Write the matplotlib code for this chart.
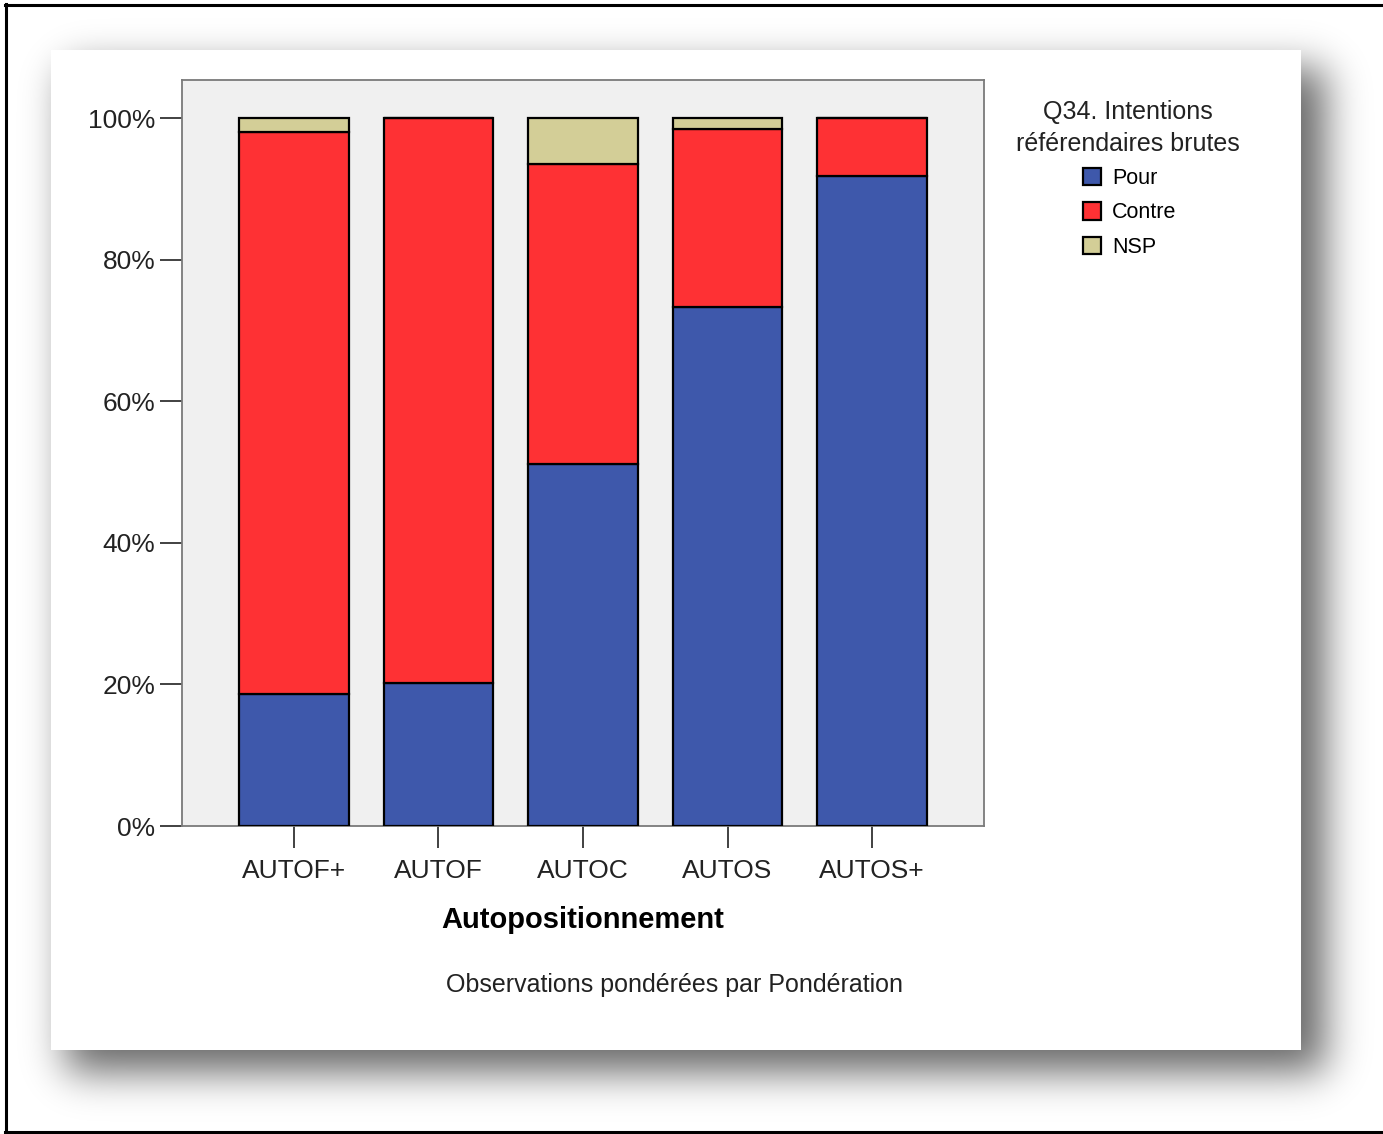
import numpy as np
import matplotlib
matplotlib.use('Agg')
import matplotlib.pyplot as plt
from matplotlib.patches import Rectangle
from matplotlib.lines import Line2D

categories = ['AUTOF+', 'AUTOF', 'AUTOC', 'AUTOS', 'AUTOS+']
pour = [18.6, 20.2, 51.1, 73.3, 91.9]
contre = [79.4, 79.8, 42.5, 25.2, 8.1]
nsp = [2.0, 0.0, 6.4, 1.5, 0.0]
series_names = ['Pour', 'Contre', 'NSP']
series_colors = ['#3e58ab', '#fe3134', '#d3ce97']
y_ticks = [0, 20, 40, 60, 80, 100]

W, H = 1383, 1134
plt.rcParams['font.family'] = ['Liberation Sans', 'DejaVu Sans']


def blurred_box(n, lo, hi, sigma):
    # 1D box blurred with a gaussian, used for the drop shadow
    ind = np.zeros(n)
    ind[lo:hi] = 1.0
    k = np.arange(-4 * sigma, 4 * sigma + 1)
    g = np.exp(-0.5 * (k / sigma) ** 2)
    g /= g.sum()
    return np.convolve(ind, g, mode='same')


def main():
    fig = plt.figure(figsize=(W / 100, H / 100), dpi=100)

    # background: drop shadow, white card, frame lines
    bg = fig.add_axes([0, 0, 1, 1])
    bg.set_xlim(0, W)
    bg.set_ylim(H, 0)
    bg.axis('off')
    shade = np.outer(blurred_box(H, 68, 1072, 20), blurred_box(W, 66, 1325, 20))
    rgba = np.zeros((H, W, 4))
    rgba[..., 3] = 0.6 * shade
    bg.imshow(rgba, extent=(0, W, H, 0), interpolation='bilinear', zorder=0)
    bg.add_patch(Rectangle((51, 50), 1250, 1000, facecolor='white',
                           edgecolor='none', zorder=1))
    bg.add_line(Line2D([6, 6], [4, 1133], color='black', lw=2.2, zorder=2))
    bg.add_line(Line2D([5, W], [5, 5], color='black', lw=2.2, zorder=2))
    bg.add_line(Line2D([5, W], [1132, 1132], color='black', lw=2.2, zorder=2))

    ax = fig.add_axes([182 / W, 1 - 826 / H, 802 / W, 746 / H])
    ax.set_facecolor('#f0f0f0')
    x = np.arange(len(categories))
    bottom = np.zeros(len(categories))
    bars = []
    for vals, name, col in zip([pour, contre, nsp], series_names, series_colors):
        b = ax.bar(x, vals, 0.755, bottom=bottom, color=col, edgecolor='black',
                   linewidth=1.6, label=name, zorder=3)
        bars.append(b)
        bottom += np.array(vals)

    ax.set_xlim(-0.775, 4.775)
    ax.set_ylim(0, 105.4)
    ax.set_yticks(y_ticks)
    ax.set_yticklabels([f'{t}%' for t in y_ticks])
    ax.set_xticks(x)
    ax.set_xticklabels(categories)
    ax.tick_params(axis='both', length=16, width=1.3, color='#333333',
                   labelsize=19, labelcolor='#222222')
    ax.tick_params(axis='y', pad=3)
    ax.tick_params(axis='x', pad=8)
    for s in ax.spines.values():
        s.set_color('#7a7a7a')
        s.set_linewidth(1.3)

    ax.set_xlabel('Autopositionnement', fontsize=21, fontweight='bold',
                  labelpad=16)

    fig.text(675 / W, 1 - 985 / H, 'Observations pondérées par Pondération',
             fontsize=18, ha='center', va='center', color='#222222')

    fig.text(1128 / W, 1 - 128 / H, 'Q34. Intentions\nréférendaires brutes',
             fontsize=18, ha='center', va='center', color='#222222',
             linespacing=1.45)
    fig.legend(handles=bars, labels=series_names, loc='upper left',
               bbox_to_anchor=(1083 / W, 1 - 168 / H), frameon=False,
               fontsize=15.5, handlelength=0.85, handleheight=0.85,
               handletextpad=0.5, labelspacing=0.62, borderaxespad=0,
               borderpad=0)

    fig.savefig('out.png', dpi=100)


if __name__ == '__main__':
    main()
